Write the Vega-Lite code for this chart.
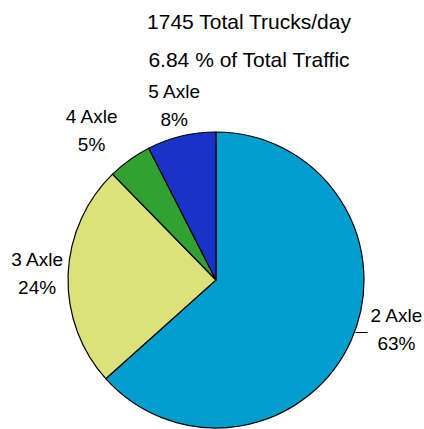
{
  "$schema": "https://vega.github.io/schema/vega-lite/v6.json",
  "autosize": {"type": "none"},
  "width": 432,
  "height": 298,
  "padding": {"left": 0, "top": 131, "right": 0, "bottom": 0},
  "background": "white",
  "view": {"stroke": null},
  "title": {
    "text": "1745 Total Trucks/day",
    "subtitle": "6.84 % of Total Traffic",
    "anchor": "middle",
    "frame": "group",
    "dx": 33,
    "offset": -11,
    "font": "Liberation Sans",
    "fontSize": 21,
    "fontWeight": "normal",
    "color": "black",
    "subtitleFont": "Liberation Sans",
    "subtitleFontSize": 21,
    "subtitleColor": "black",
    "subtitlePadding": 17
  },
  "data": {
    "values": [
      {"axle": "2 Axle", "trucks": 1106, "pct": "63%"},
      {"axle": "3 Axle", "trucks": 424, "pct": "24%"},
      {"axle": "4 Axle", "trucks": 84, "pct": "5%"},
      {"axle": "5 Axle", "trucks": 131, "pct": "8%"}
    ]
  },
  "encoding": {
    "theta": {"field": "trucks", "type": "quantitative", "stack": true},
    "order": {"field": "axle", "type": "ordinal"}
  },
  "layer": [
    {
      "mark": {"type": "arc", "outerRadius": 148, "stroke": "black", "strokeWidth": 1.2},
      "encoding": {
        "color": {
          "field": "axle",
          "type": "nominal",
          "scale": {"domain": ["2 Axle", "3 Axle", "4 Axle", "5 Axle"], "range": ["#009ECC", "#DCE17C", "#31A232", "#1933C9"]},
          "legend": null
        }
      }
    },
    {
      "mark": {"type": "text", "radius": 179, "dy": -14, "font": "Liberation Sans", "fontSize": 19, "fill": "black"},
      "encoding": {
        "detail": {"field": "axle", "type": "nominal"},
        "text": {"condition": {"test": "datum.axle === '2 Axle' || datum.axle === '4 Axle'", "value": ""}, "field": "axle", "type": "nominal"}
      }
    },
    {
      "mark": {"type": "text", "radius": 179, "dy": 14, "font": "Liberation Sans", "fontSize": 19, "fill": "black"},
      "encoding": {
        "detail": {"field": "axle", "type": "nominal"},
        "text": {"condition": {"test": "datum.axle === '2 Axle' || datum.axle === '4 Axle'", "value": ""}, "field": "pct", "type": "nominal"}
      }
    },
    {
      "mark": {"type": "text", "radius": 179, "dx": -20, "dy": -18, "font": "Liberation Sans", "fontSize": 19, "fill": "black"},
      "encoding": {
        "detail": {"field": "axle", "type": "nominal"},
        "text": {"condition": {"test": "datum.axle !== '4 Axle'", "value": ""}, "field": "axle", "type": "nominal"}
      }
    },
    {
      "mark": {"type": "text", "radius": 179, "dx": -20, "dy": 10, "font": "Liberation Sans", "fontSize": 19, "fill": "black"},
      "encoding": {
        "detail": {"field": "axle", "type": "nominal"},
        "text": {"condition": {"test": "datum.axle !== '4 Axle'", "value": ""}, "field": "pct", "type": "nominal"}
      }
    },
    {
      "mark": {"type": "text", "radius": 179, "dx": 17, "dy": -37, "font": "Liberation Sans", "fontSize": 19, "fill": "black"},
      "encoding": {
        "detail": {"field": "axle", "type": "nominal"},
        "text": {"condition": {"test": "datum.axle !== '2 Axle'", "value": ""}, "field": "axle", "type": "nominal"}
      }
    },
    {
      "mark": {"type": "text", "radius": 179, "dx": 17, "dy": -9, "font": "Liberation Sans", "fontSize": 19, "fill": "black"},
      "encoding": {
        "detail": {"field": "axle", "type": "nominal"},
        "text": {"condition": {"test": "datum.axle !== '2 Axle'", "value": ""}, "field": "pct", "type": "nominal"}
      }
    },
    {
      "mark": {"type": "text", "radius": 155, "dx": 4, "dy": -11, "font": "Liberation Sans", "fontSize": 12, "fill": "black"},
      "encoding": {
        "detail": {"field": "axle", "type": "nominal"},
        "text": {"condition": {"test": "datum.axle !== '2 Axle'", "value": ""}, "value": "—"}
      }
    }
  ]
}
